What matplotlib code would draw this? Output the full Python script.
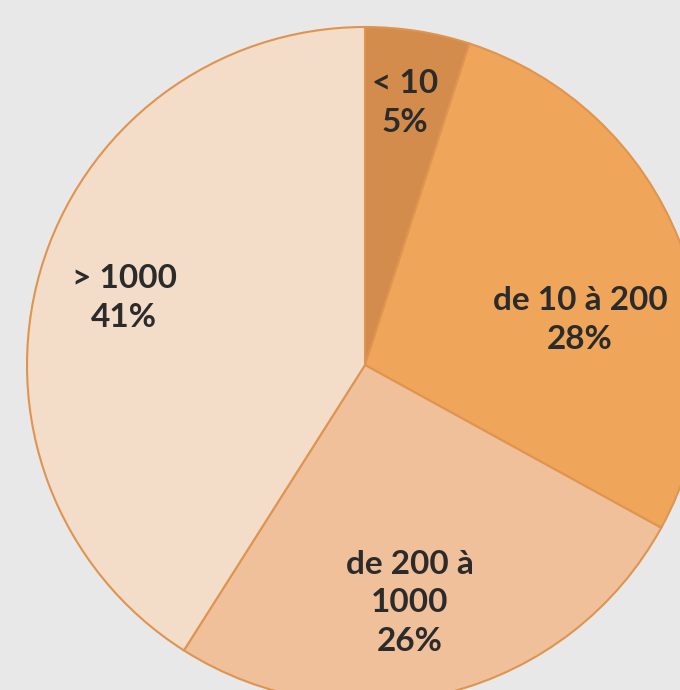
import matplotlib.pyplot as plt

# Répartition par tranche
categories = ["< 10", "de 10 à 200", "de 200 à\n1000", "> 1000"]
parts = [5, 28, 26, 41]
couleurs = ["#d48c4c", "#f0a65a", "#f0c09a", "#f3dcc8"]

# positions des étiquettes (pixels, origine en bas)
pos_labels = [(405, 587), (580, 370), (410, 87), (124, 392)]

fig = plt.figure(figsize=(6.8, 6.9), dpi=100)
fig.patch.set_facecolor("#e8e8e8")
ax = fig.add_axes([0, 0, 1, 1])

ax.pie(parts, colors=couleurs, startangle=90, counterclock=False,
       center=(365, 325), radius=338, frame=True,
       wedgeprops=dict(edgecolor="#df9450", linewidth=1.5))
ax.set_xlim(0, 680)
ax.set_ylim(0, 690)
ax.set_aspect("equal")
ax.axis("off")

for cat, p, (x, y) in zip(categories, parts, pos_labels):
    ax.text(x, y, f"{cat}\n{p}%", ha="center", va="center",
            fontsize=24, family="Lato", fontweight="bold", color="#2b2b2b",
            linespacing=1.4)

fig.savefig("out.png", dpi=100, facecolor=fig.get_facecolor())
